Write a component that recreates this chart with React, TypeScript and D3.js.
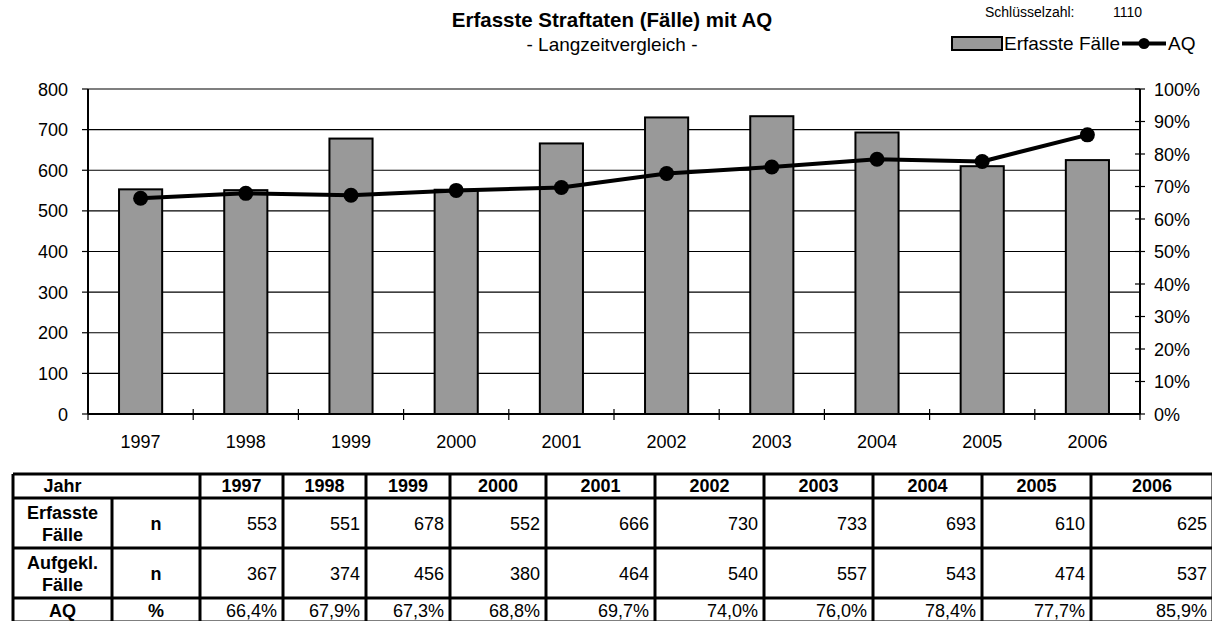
import React from "react";
import * as d3 from "d3";

const years = ["1997", "1998", "1999", "2000", "2001", "2002", "2003", "2004", "2005", "2006"];
const erfassteFaelle = [553, 551, 678, 552, 666, 730, 733, 693, 610, 625];
const aufgeklaerteFaelle = [367, 374, 456, 380, 464, 540, 557, 543, 474, 537];
const aqQuote = [66.4, 67.9, 67.3, 68.8, 69.7, 74.0, 76.0, 78.4, 77.7, 85.9];
const leftTicks = [0, 100, 200, 300, 400, 500, 600, 700, 800];
const rightTicks = [0, 10, 20, 30, 40, 50, 60, 70, 80, 90, 100];

const W = 1212;
const H = 621;
const FONT = "Arial, 'Liberation Sans', sans-serif";
const FS = 18;

// plot box
const plot = { left: 88, right: 1140, top: 89, bottom: 414 };

// table grid
const colEdges = [13, 112, 200, 283, 366, 450, 546, 655, 764, 873, 982, 1091, 1213];
const rowEdges = [474, 498, 548, 598, 622];

const fmtPct = (v: number) => d3.format(".1f")(v).replace(".", ",") + "%";

export default function App() {
  const x = d3.scaleBand().domain(years).range([plot.left, plot.right]);
  const yL = d3.scaleLinear().domain([0, 800]).range([plot.bottom, plot.top]);
  const yR = d3.scaleLinear().domain([0, 100]).range([plot.bottom, plot.top]);
  const barW = x.bandwidth() * 0.41;
  const cx = (i: number) => (x(years[i]) as number) + x.bandwidth() / 2;

  const aqLine = d3
    .line<number>()
    .x((_, i) => cx(i))
    .y((d) => yR(d));

  // x axis ticks sit on the category boundaries
  const xBounds = years.map((y) => x(y) as number).concat([plot.right]);

  const rows = [
    { label: ["Erfasste", "Fälle"], unit: "n", values: erfassteFaelle.map(String) },
    { label: ["Aufgekl.", "Fälle"], unit: "n", values: aufgeklaerteFaelle.map(String) },
    { label: ["AQ"], unit: "%", values: aqQuote.map(fmtPct) },
  ];

  return (
    <svg
      width={W}
      height={H}
      style={{ position: "absolute", left: 0, top: 0, background: "#fff" }}
      fontFamily={FONT}
    >
      {/* titles */}
      <text x={612} y={27} textAnchor="middle" fontSize={20.5} fontWeight="bold">
        Erfasste Straftaten (Fälle) mit AQ
      </text>
      <text x={612} y={51} textAnchor="middle" fontSize={19}>
        - Langzeitvergleich -
      </text>
      <text x={985} y={17} fontSize={14}>Schlüsselzahl:</text>
      <text x={1113} y={17} fontSize={14}>1110</text>

      {/* legend */}
      <rect x={952} y={37} width={50} height={13} fill="#999999" stroke="#000" strokeWidth={2} />
      <text x={1004} y={50} fontSize={19}>Erfasste Fälle</text>
      <line x1={1122} x2={1166} y1={43.5} y2={43.5} stroke="#000" strokeWidth={4} />
      <circle cx={1144} cy={43.5} r={5.5} fill="#000" />
      <text x={1168} y={50} fontSize={19}>AQ</text>

      {/* grid lines */}
      {leftTicks.slice(1).map((t) => (
        <line key={t} x1={plot.left} x2={plot.right} y1={yL(t)} y2={yL(t)} stroke="#000" strokeWidth={1.2} />
      ))}

      {/* bars */}
      {erfassteFaelle.map((v, i) => (
        <rect
          key={years[i]}
          x={cx(i) - barW / 2}
          y={yL(v)}
          width={barW}
          height={yL(0) - yL(v)}
          fill="#999999"
          stroke="#000"
          strokeWidth={2}
        />
      ))}

      {/* axes */}
      <line x1={plot.left} x2={plot.left} y1={plot.top} y2={plot.bottom} stroke="#000" strokeWidth={2} />
      <line x1={plot.right} x2={plot.right} y1={plot.top} y2={plot.bottom} stroke="#000" strokeWidth={2} />
      <line x1={plot.left} x2={plot.right} y1={plot.bottom} y2={plot.bottom} stroke="#000" strokeWidth={2} />
      {leftTicks.map((t) => (
        <g key={t}>
          <line x1={plot.left - 6} x2={plot.left} y1={yL(t)} y2={yL(t)} stroke="#000" strokeWidth={1.2} />
          <text x={68} y={yL(t) + 6.5} textAnchor="end" fontSize={FS}>
            {t}
          </text>
        </g>
      ))}
      {rightTicks.map((t) => (
        <g key={t}>
          <line x1={plot.right - 5} x2={plot.right + 5} y1={yR(t)} y2={yR(t)} stroke="#000" strokeWidth={1.2} />
          <text x={1154} y={yR(t) + 6.5} fontSize={FS}>
            {t}%
          </text>
        </g>
      ))}
      {xBounds.map((b, i) => (
        <line key={i} x1={b} x2={b} y1={plot.bottom - 5} y2={plot.bottom + 6} stroke="#000" strokeWidth={1.2} />
      ))}
      {years.map((y, i) => (
        <text key={y} x={cx(i)} y={448} textAnchor="middle" fontSize={FS}>
          {y}
        </text>
      ))}

      {/* AQ line */}
      <path d={aqLine(aqQuote) as string} fill="none" stroke="#000" strokeWidth={4} strokeLinejoin="round" />
      {aqQuote.map((v, i) => (
        <circle key={i} cx={cx(i)} cy={yR(v)} r={7.5} fill="#000" />
      ))}

      {/* table */}
      <g fontSize={FS}>
        <text x={(colEdges[0] + colEdges[1]) / 2} y={rowEdges[0] + 18} textAnchor="middle" fontWeight="bold">
          Jahr
        </text>
        {years.map((y, i) => (
          <text
            key={y}
            x={(colEdges[i + 2] + colEdges[i + 3]) / 2}
            y={rowEdges[0] + 18}
            textAnchor="middle"
            fontWeight="bold"
          >
            {y}
          </text>
        ))}
        {rows.map((r, ri) => {
          const top = rowEdges[ri + 1];
          const bot = rowEdges[ri + 2];
          const mid = (top + bot) / 2;
          return (
            <g key={ri}>
              {r.label.map((l, li) => (
                <text
                  key={li}
                  x={(colEdges[0] + colEdges[1]) / 2}
                  y={mid + 6.5 + (li - (r.label.length - 1) / 2) * 22}
                  textAnchor="middle"
                  fontWeight="bold"
                >
                  {l}
                </text>
              ))}
              <text x={(colEdges[1] + colEdges[2]) / 2} y={mid + 6.5} textAnchor="middle" fontWeight="bold">
                {r.unit}
              </text>
              {r.values.map((v, i) => (
                <text key={i} x={colEdges[i + 3] - 6} y={mid + 6.5} textAnchor="end">
                  {v}
                </text>
              ))}
            </g>
          );
        })}
        {rowEdges.map((ry, i) => (
          <line key={"h" + i} x1={colEdges[0]} x2={colEdges[colEdges.length - 1]} y1={ry} y2={ry} stroke="#000" strokeWidth={3} />
        ))}
        {colEdges.map((cxe, i) => (
          <line
            key={"v" + i}
            x1={cxe}
            x2={cxe}
            y1={i === 1 ? rowEdges[1] : rowEdges[0]}
            y2={rowEdges[rowEdges.length - 1]}
            stroke="#000"
            strokeWidth={3}
          />
        ))}
      </g>
    </svg>
  );
}
